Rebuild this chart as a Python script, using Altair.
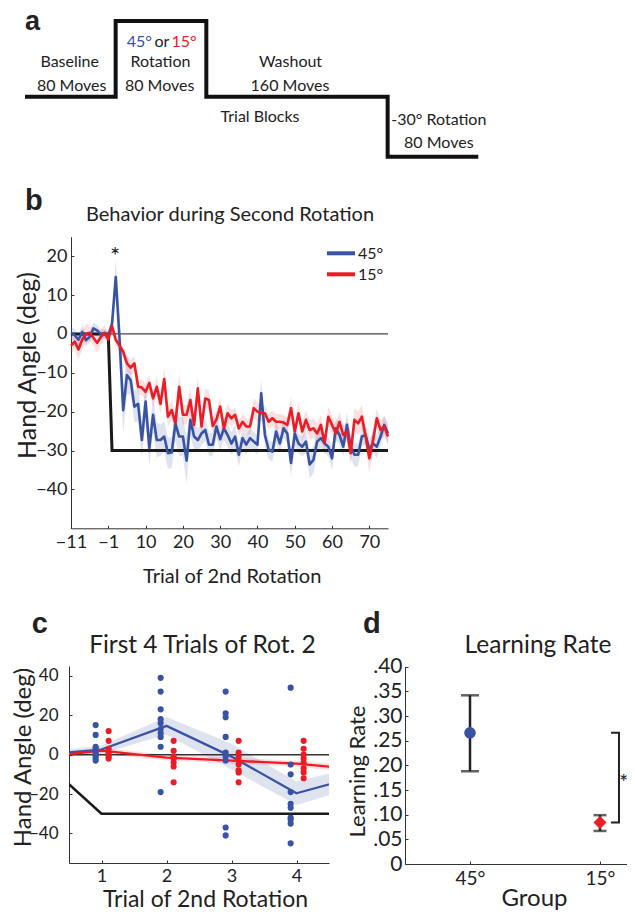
import altair as alt
import pandas as pd

# ---------------- data ----------------
trials = list(range(-10, 76))
blue_mean = [0.3, -0.3, -1.5, 0.5, -1.6, -0.8, 1.4, 0.9, -0.1, 0.0,
             -0.3, 2.6, 14.6, -1.0, -19.6, -10.6, -11.9, -18.7, -18.0, -27.3,
             -17.4, -29.4, -20.8, -27.3, -27.3, -26.4, -30.7, -30.5, -23.0, -26.4,
             -26.4, -32.6, -22.1, -26.4, -27.3, -25.6, -24.7, -28.5, -28.5, -23.8,
             -27.1, -24.3, -26.0, -28.2, -26.4, -31.1, -26.8, -28.5, -26.8, -27.7,
             -28.5, -15.3, -26.0, -29.8, -30.3, -25.1, -28.2, -24.3, -25.6, -33.2,
             -25.6, -28.2, -29.0, -27.7, -33.6, -32.4, -27.7, -26.8, -28.2, -29.0,
             -32.0, -24.3, -26.0, -29.0, -23.4, -29.0, -31.1, -31.1, -26.4, -26.0,
             -29.8, -28.2, -29.0, -26.4, -23.4, -25.6]
red_mean = [-3.0, -2.0, -4.0, -1.5, 0.0, 0.3, -1.0, -2.3, -0.8, 0.3,
            -1.5, 2.0, -1.5, -3.0, -4.6, -7.6, -8.7, -7.6, -13.6, -13.8,
            -14.9, -12.6, -16.6, -13.6, -18.0, -11.6, -21.3, -19.6, -23.0, -13.6,
            -20.8, -20.8, -17.0, -23.4, -14.0, -23.8, -16.6, -17.0, -23.7, -22.0,
            -18.7, -24.3, -20.4, -21.7, -20.8, -24.3, -22.6, -23.8, -23.8, -19.1,
            -20.0, -20.4, -20.4, -22.6, -21.7, -22.6, -22.6, -22.8, -23.4, -19.1,
            -25.1, -20.4, -25.1, -22.1, -24.7, -24.3, -25.6, -23.4, -28.1, -21.3,
            -23.4, -25.6, -22.6, -26.0, -25.1, -30.7, -22.1, -23.0, -21.3, -26.4,
            -32.0, -27.3, -21.7, -24.7, -23.8, -26.4]
blue_se = [1.5, 1.5, 1.5, 1.8, 1.5, 1.5, 1.5, 1.5, 1.2, 1.2,
           1.2, 2.0, 4.5, 6.5, 6.0, 5.0, 3.5, 4.0, 4.5, 4.5,
           5.0, 4.5, 4.5, 4.5, 4.0, 4.0, 4.0, 4.0, 4.5, 5.0,
           5.0, 6.0, 4.0, 3.5, 3.0, 3.0, 3.0, 3.0, 3.0, 3.0,
           3.0, 3.0, 3.0, 3.0, 3.0, 3.0, 2.5, 2.5, 2.5, 2.5,
           2.5, 3.5, 3.0, 2.5, 2.5, 3.0, 2.5, 2.5, 2.5, 3.5,
           3.0, 2.5, 2.5, 3.0, 3.5, 3.5, 2.5, 2.5, 2.5, 2.5,
           3.0, 3.0, 2.5, 2.5, 3.0, 3.0, 3.0, 3.0, 2.5, 2.5,
           3.0, 2.5, 3.0, 2.5, 2.5, 2.5]
red_se = [2.0, 2.0, 2.5, 2.5, 2.5, 2.0, 2.0, 2.5, 2.0, 2.0,
          1.5, 1.5, 1.5, 1.5, 1.5, 2.0, 2.0, 2.0, 2.0, 2.0,
          2.0, 2.0, 2.0, 2.5, 2.5, 3.0, 2.5, 2.5, 2.5, 3.5,
          2.5, 2.5, 3.0, 2.5, 3.0, 2.5, 2.5, 2.5, 2.0, 2.0,
          2.5, 2.0, 2.5, 2.0, 2.0, 2.0, 2.0, 2.0, 2.0, 2.5,
          2.5, 2.0, 2.0, 2.0, 2.0, 2.0, 2.0, 2.0, 2.0, 3.0,
          2.5, 2.5, 2.5, 2.5, 2.5, 2.5, 2.5, 2.5, 2.5, 2.5,
          2.5, 2.5, 2.5, 2.5, 2.5, 3.0, 3.0, 3.0, 3.0, 3.0,
          3.5, 3.0, 2.5, 2.5, 2.5, 2.5]
ideal_trial = [-10, 0, 1, 75]
ideal_angle = [0, 0, -30, -30]

# individual subjects, first four trials of rotation 2 (panel c)
c_trials = [1, 2, 3, 4]
blue_subj = [[15, 10, 4, 3, 2, 1, 0, -1, -2, -3],
             [39, 32, 23, 18, 16, 13, 11, 9, 4, -19],
             [32, 21, 19, 9, 1, -1, -3, -37, -41],
             [34, -5, -10, -19, -25, -27, -32, -33, -35, -45]]
red_subj = [[12, 7, 3, 1, 0, -1, -2],
            [7, 2, -1, -2, -4, -6, -14],
            [7, 1, -1, -3, -5, -8, -9, -14],
            [7, 3, 0, -2, -4, -7, -9, -12]]

# learning rate (panel d)
groups = ["45°", "15°"]
group_pos = [1, 2]
rate = [0.266, 0.084]
rate_lo = [0.188, 0.067]
rate_hi = [0.342, 0.099]

# schematic (panel a)
block_names = ["Baseline", "Rotation", "Washout", "-30° Rotation"]
block_moves = [80, 80, 160, 80]
block_level = [0, 38, 0, -30]

# ---------------- tables ----------------
n = len(trials)
dfB = pd.DataFrame({"trial": trials * 2,
                    "group": [groups[0]] * n + [groups[1]] * n,
                    "angle": blue_mean + red_mean,
                    "se": blue_se + red_se})
dfI = pd.DataFrame({"trial": ideal_trial, "angle": ideal_angle})
rows = []
for t, vals in zip(c_trials, blue_subj):
    rows += [{"trial": t, "group": groups[0], "angle": v} for v in vals]
for t, vals in zip(c_trials, red_subj):
    rows += [{"trial": t, "group": groups[1], "angle": v} for v in vals]
dfS = pd.DataFrame(rows)
dfD = pd.DataFrame({"group": groups, "pos": group_pos, "rate": rate,
                    "lo": rate_lo, "hi": rate_hi})
steps = []
start = 0
for i, (nm, mv, lv) in enumerate(zip(block_names, block_moves, block_level)):
    steps.append({"moves": start, "level": lv, "order": 2 * i})
    steps.append({"moves": start + mv, "level": lv, "order": 2 * i + 1})
    start += mv
dfA = pd.DataFrame(steps)
dummy = pd.DataFrame({"k": [0]})

# ---------------- layout helpers ----------------
FONT = "Lato"
LETTER_FONT = "Liberation Sans"
BLUE = "#3953A4"
RED = "#ED1C24"
INK = "#222222"
OX, OY = 69.0, 666.0      # page position of panel c plot origin
W, H = 260, 197
PAGE_W, PAGE_H = 619, 905


def px(x):
    return x - OX


def py(y):
    return y - OY


def left_off(x):
    return -(x - OX)


def bottom_off(y):
    return (y - OY) - H


def S(domain, rng):
    return alt.Scale(domain=domain, range=rng, nice=False, zero=False)


def main_axis(orient, off, values, title, tsize, lsize, lpad, tx, ty, label_expr=None):
    kw = dict(orient=orient, offset=off, values=values, title=title,
              labelFont=FONT, labelFontSize=lsize, labelColor=INK, labelPadding=lpad,
              labelFlush=False, labelOverlap=False,
              titleFont=FONT, titleFontSize=tsize, titleFontWeight="normal",
              titleColor=INK, titleX=tx, titleY=ty, titleAlign="center",
              titleBaseline="middle", titleAngle=270 if orient == "left" else 0,
              domainColor="#333333", domainWidth=1, ticks=False, tickSize=0, grid=False)
    if label_expr:
        kw["labelExpr"] = label_expr
    return alt.Axis(**kw)


def tick_axis(orient, off, values):
    return alt.Axis(orient=orient, offset=off - 3, values=values, labels=False,
                    domain=False, ticks=True, tickSize=3, tickColor="#333333",
                    tickWidth=1, title=None, grid=False)


def note(text, x, y, size, color=INK, font=FONT, weight="normal", align="center"):
    return alt.Chart(dummy).mark_text(text=text, x=px(x), y=py(y), fontSize=size,
                                      font=font, fontWeight=weight, color=color,
                                      align=align, baseline="alphabetic")


def hline(x1, x2, y, color, width):
    return alt.Chart(dummy).mark_rule(color=color, strokeWidth=width).encode(
        x=alt.value(px(x1)), x2=alt.value(px(x2)), y=alt.value(py(y)))


# ---------------- panel a ----------------
A_xs = S([0, 400], [px(25), px(478.3)])
A_ys = S([-30, 38], [py(156.7), py(21)])
panelA = alt.Chart(dfA).mark_line(color="#111111", strokeWidth=4, strokeJoin="miter",
                                  strokeCap="butt").encode(
    x=alt.X("moves:Q", scale=A_xs, axis=None),
    y=alt.Y("level:Q", scale=A_ys, axis=None),
    order="order:Q")

# ---------------- panel b ----------------
B_xs = S([-10, 75], [px(71), px(388)])
B_ys = S([-50, 25], [py(528.3), py(236.7)])
B_xvals = [-10, 0, 10, 20, 30, 40, 50, 60, 70]
B_yvals = [-40, -30, -20, -10, 0, 10, 20]
B_xoff = bottom_off(528.3)
B_yoff = left_off(71)
B_xax = main_axis("bottom", B_xoff, B_xvals, "Trial of 2nd Rotation", 20, 18, 5,
                  px(231.7), 576.7 - 528.3,
                  "datum.value == -10 ? '\u221211' : datum.value == 0 ? '\u22121' : format(datum.value, 'd')")
B_yax = main_axis("left", B_yoff, B_yvals, "Hand Angle (deg)", 25, 18, 4,
                  27 - 71, py(365))


def band(g, color, xs, ys, xax, yax, clip, op):
    return alt.Chart(dfB).transform_filter(alt.datum.group == g).transform_calculate(
        lo="datum.angle - datum.se", hi="datum.angle + datum.se").mark_area(
        color=color, opacity=op, clip=clip).encode(
        x=alt.X("trial:Q", scale=xs, axis=xax),
        y=alt.Y("lo:Q", scale=ys, axis=yax), y2="hi:Q")


def series(g, color, xs, ys, xax, yax, clip, w):
    return alt.Chart(dfB).transform_filter(alt.datum.group == g).mark_line(
        color=color, strokeWidth=w, clip=clip, strokeJoin="round").encode(
        x=alt.X("trial:Q", scale=xs, axis=xax),
        y=alt.Y("angle:Q", scale=ys, axis=yax))


def ideal(xs, ys, xax, yax, clip, w):
    return alt.Chart(dfI).mark_line(color="#1a1a1a", strokeWidth=w, clip=clip).encode(
        x=alt.X("trial:Q", scale=xs, axis=xax),
        y=alt.Y("angle:Q", scale=ys, axis=yax))


def zero(x0, x1, xs, ys, xax, yax, color, w):
    return alt.Chart(dummy).mark_rule(color=color, strokeWidth=w).encode(
        x=alt.XDatum(x0, scale=xs, axis=xax), x2=alt.X2Datum(x1),
        y=alt.YDatum(0, scale=ys, axis=yax))


panelB = alt.layer(
    band(groups[0], BLUE, B_xs, B_ys, B_xax, B_yax, False, 0.16),
    band(groups[1], RED, B_xs, B_ys, B_xax, B_yax, False, 0.14),
    zero(-10, 75, B_xs, B_ys, B_xax, B_yax, "#444444", 1.3),
    ideal(B_xs, B_ys, B_xax, B_yax, False, 3),
    series(groups[0], BLUE, B_xs, B_ys, B_xax, B_yax, False, 2.6),
    series(groups[1], RED, B_xs, B_ys, B_xax, B_yax, False, 2.6),
)
ticksB = alt.Chart(dfB).mark_point(opacity=0).encode(
    x=alt.X("trial:Q", scale=B_xs, axis=tick_axis("bottom", B_xoff, B_xvals)),
    y=alt.Y("angle:Q", scale=B_ys, axis=tick_axis("left", B_yoff, B_yvals)))

# ---------------- panel c ----------------
C_xs = S([0.5, 4.5], [0, W])
C_ys = S([-55, 45], [H, 0])
C_xvals = [1, 2, 3, 4]
C_yvals = [-40, -20, 0, 20, 40]
C_xax = main_axis("bottom", 0, C_xvals, "Trial of 2nd Rotation", 23, 18, 4,
                  px(205), 899 - 863)
C_yax = main_axis("left", 0, C_yvals, "Hand Angle (deg)", 24, 17, 11,
                  23 - 69, py(757))


def dots(g, color):
    return alt.Chart(dfS).transform_filter(alt.datum.group == g).transform_calculate(
        xp="datum.trial + (datum.group == '45°' ? -0.09 : 0.11)").mark_circle(
        color=color, opacity=1, size=38, clip=True).encode(
        x=alt.X("xp:Q", scale=C_xs, axis=C_xax),
        y=alt.Y("angle:Q", scale=C_ys, axis=C_yax))


panelC = alt.layer(
    band(groups[0], BLUE, C_xs, C_ys, C_xax, C_yax, True, 0.16),
    band(groups[1], RED, C_xs, C_ys, C_xax, C_yax, True, 0.14),
    zero(0.5, 4.5, C_xs, C_ys, C_xax, C_yax, "#333333", 1.5),
    ideal(C_xs, C_ys, C_xax, C_yax, True, 2.5),
    series(groups[0], BLUE, C_xs, C_ys, C_xax, C_yax, True, 2.3),
    series(groups[1], RED, C_xs, C_ys, C_xax, C_yax, True, 2.3),
    dots(groups[0], BLUE),
    dots(groups[1], RED),
)
ticksC = alt.Chart(dfS).mark_point(opacity=0).encode(
    x=alt.X("trial:Q", scale=C_xs, axis=tick_axis("bottom", 0, C_xvals)),
    y=alt.Y("angle:Q", scale=C_ys, axis=tick_axis("left", 0, C_yvals)))

# ---------------- panel d ----------------
D_xs = S([0.5, 2.5], [px(405), px(665)])
D_ys = S([0, 0.4], [py(864), py(666.7)])
D_xvals = [1, 2]
D_yvals = [0, 0.05, 0.1, 0.15, 0.2, 0.25, 0.3, 0.35, 0.4]
D_xoff = bottom_off(864)
D_yoff = left_off(405)
D_xax = main_axis("bottom", D_xoff, D_xvals, "Group", 24, 19, 5, px(534), 34,
                  "datum.value == 1 ? '45°' : '15°'")
D_yax = main_axis("left", D_yoff, D_yvals, "Learning Rate", 22, 21, 3,
                  357.5 - 405, py(771),
                  "datum.value == 0 ? '0' : slice(format(datum.value, '.2f'), 1)")
dX = alt.X("pos:Q", scale=D_xs, axis=D_xax)
cap = alt.condition(alt.datum.group == groups[0], alt.value(18), alt.value(13))
panelD = alt.layer(
    alt.Chart(dfD).mark_rule(color=INK, strokeWidth=2.5).encode(
        x=dX, y=alt.Y("lo:Q", scale=D_ys, axis=D_yax), y2="hi:Q"),
    alt.Chart(dfD).mark_tick(color=INK, thickness=2.5, orient="horizontal").encode(
        x=dX, y=alt.Y("lo:Q", scale=D_ys, axis=D_yax), size=cap),
    alt.Chart(dfD).mark_tick(color=INK, thickness=2.5, orient="horizontal").encode(
        x=dX, y=alt.Y("hi:Q", scale=D_ys, axis=D_yax), size=cap),
    alt.Chart(dfD).transform_filter(alt.datum.group == groups[0]).mark_point(
        shape="circle", filled=True, size=135, color=BLUE, opacity=1).encode(
        x=dX, y=alt.Y("rate:Q", scale=D_ys, axis=D_yax)),
    alt.Chart(dfD).transform_filter(alt.datum.group == groups[1]).mark_point(
        shape="diamond", filled=True, size=170, color=RED, opacity=1).encode(
        x=dX, y=alt.Y("rate:Q", scale=D_ys, axis=D_yax)),
)
ticksD = alt.Chart(dfD).mark_point(opacity=0).encode(
    x=alt.X("pos:Q", scale=D_xs, axis=tick_axis("bottom", D_xoff, D_xvals)),
    y=alt.Y("rate:Q", scale=D_ys, axis=tick_axis("left", D_yoff, D_yvals)))

# significance bracket in panel d (between the two group means)
bracket = pd.DataFrame({"bx": [2.085, 2.146, 2.146, 2.085],
                        "by": [rate[0], rate[0], rate[1], rate[1]],
                        "o": [0, 1, 2, 3]})
bracketD = alt.Chart(bracket).mark_line(color=INK, strokeWidth=2).encode(
    x=alt.X("bx:Q", scale=D_xs, axis=None), y=alt.Y("by:Q", scale=D_ys, axis=None),
    order="o:Q")

# ---------------- annotations ----------------
notes = [
    note("a", 25, 30, 27, font=LETTER_FONT, weight="bold", align="left"),
    note("b", 25, 210, 29, font=LETTER_FONT, weight="bold", align="left"),
    note("c", 31.7, 633, 29, font=LETTER_FONT, weight="bold", align="left"),
    note("d", 363, 633, 29, font=LETTER_FONT, weight="bold", align="left"),
    note("Behavior during Second Rotation", 230, 220.7, 20),
    note("First 4 Trials of Rot. 2", 202.5, 653.3, 24.5),
    note("Learning Rate", 538, 653.3, 24.5),
    note("Baseline", 69.7, 66.7, 16),
    note("80 Moves", 71.7, 90.7, 16),
    note("45°", 152, 46.7, 16, color=BLUE, align="right"),
    note("or", 162, 46.7, 16),
    note("15°", 171.5, 46.7, 16, color=RED, align="left"),
    note("Rotation", 160.5, 66.7, 16),
    note("80 Moves", 159.7, 90.7, 16),
    note("Washout", 290.5, 66.7, 16),
    note("160 Moves", 290, 90.7, 16),
    note("Trial Blocks", 260, 121.7, 16),
    note("-30° Rotation", 438.8, 125, 16),
    note("80 Moves", 438.8, 148.3, 16),
    hline(327, 355, 253.3, BLUE, 4),
    hline(327, 355, 274.3, RED, 4),
    note("45°", 358, 259, 16, align="left"),
    note("15°", 358, 280, 16, align="left"),
    note("*", 115, 264, 24),
    note("*", 619, 790, 22, align="left"),
]

chart = alt.layer(panelA, panelB, ticksB, panelC, ticksC, panelD, ticksD, bracketD,
                  *notes).resolve_scale(x="independent", y="independent").properties(
    width=W, height=H,
    padding={"left": OX - 8, "top": OY - 8,
             "right": PAGE_W - (OX - 8) - W, "bottom": PAGE_H - (OY - 8) - H},
    autosize=alt.AutoSizeParams(type="none"),
).configure_view(stroke=None)

chart.save("out.html", embed_options={"renderer": "svg", "actions": False})
